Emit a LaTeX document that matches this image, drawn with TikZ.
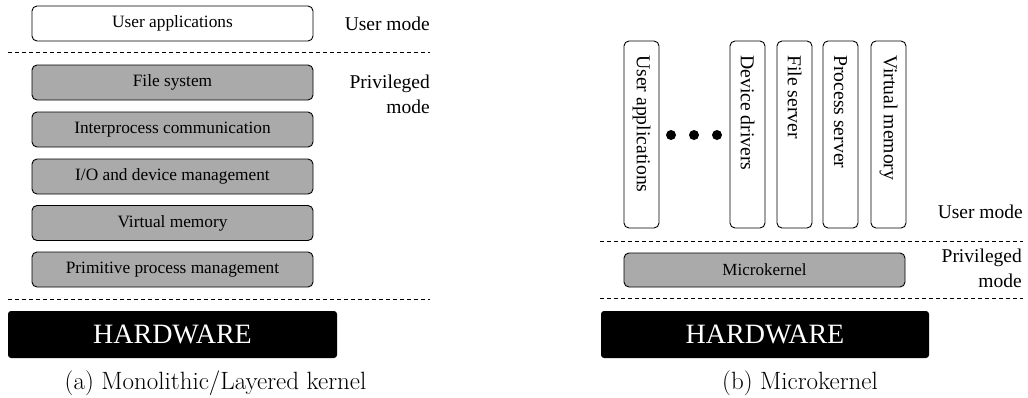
\documentclass[tikz,border=0pt]{standalone}
\usepackage{fontspec}
\newfontfamily\tnr{Liberation Serif}
\definecolor{kgray}{RGB}{170,170,170}
\begin{document}
\begin{tikzpicture}[x=1pt,y=-1pt,
 layer/.style={draw, rounded corners=5pt, line width=0.9pt, minimum width=281pt, minimum height=35pt, inner sep=0pt, font=\tnr\fontsize{17.3}{20}\selectfont},
 kern/.style={layer, fill=kgray},
 userbox/.style={layer, fill=white},
 hw/.style={fill=black, rounded corners=3pt, text=white, minimum width=329pt, minimum height=47pt, inner sep=0pt, font=\tnr\fontsize{28}{32}\selectfont},
 vbox/.style={draw, rounded corners=5pt, line width=0.9pt, minimum width=35pt, minimum height=187pt, inner sep=0pt},
 vtext/.style={rotate=-90, anchor=west, inner sep=0pt, font=\tnr\fontsize{19.7}{22}\selectfont},
 modelabel/.style={anchor=east, align=right, inner sep=0pt, font=\tnr\fontsize{19.5}{25}\selectfont},
 sepline/.style={dash pattern=on 4pt off 3pt, line width=0.8pt},
 dotnode/.style={circle, fill=black, minimum size=10pt, inner sep=0pt},
 captext/.style={inner sep=0pt, font=\fontsize{25}{30}\selectfont}]
\useasboundingbox (0,0) rectangle (1028,397);

% ---------- (a) ----------
\node[userbox] (ua) at (172.5,23.5) {User applications};
\node[kern] (fs) at (172.5,82.5) {File system};
\node[kern] (ipc) at (172.5,129.5) {Interprocess communication};
\node[kern] (io) at (172.5,176.5) {I/O and device management};
\node[kern] (vm) at (172.5,223) {Virtual memory};
\node[kern] (ppm) at (172.5,269.5) {Primitive process management};
\node[hw] (hwa) at (172.5,334.5) {HARDWARE};
\node[modelabel] (uma) at (430,23.5) {User mode};
\node[modelabel] (pma) at (430,94.5) {Privileged\\mode};
\coordinate (a1l) at (8,52); \coordinate (a1r) at (430,52);
\coordinate (a2l) at (8,299); \coordinate (a2r) at (430,299);
\draw[sepline] (a1l) -- (a1r);
\draw[sepline] (a2l) -- (a2r);
\node[captext] (capa) at (215.5,383) {(a) Monolithic/Layered kernel};

% ---------- (b) ----------
\node[vbox] (bua) at (641.5,134.5) {};
\node[vbox] (bdd) at (747.5,134.5) {};
\node[vbox] (bfs) at (794.5,134.5) {};
\node[vbox] (bps) at (840.5,134.5) {};
\node[vbox] (bvm) at (888.5,134.5) {};
\node[vtext] (tua) at (641.5,55) {User applications};
\node[vtext] (tdd) at (747.5,55) {Device drivers};
\node[vtext] (tfs) at (794.5,55) {File server};
\node[vtext] (tps) at (840.5,55) {Process server};
\node[vtext] (tvm) at (888.5,55) {Virtual memory};
\node[dotnode] (d1) at (671,135) {};
\node[dotnode] (d2) at (694,135) {};
\node[dotnode] (d3) at (717,135) {};
\node[modelabel] (umb) at (1023,212) {User mode};
\coordinate (b1l) at (600,241); \coordinate (b1r) at (1023,241);
\coordinate (b2l) at (600,298); \coordinate (b2r) at (1023,298);
\draw[sepline] (b1l) -- (b1r);
\draw[sepline] (b2l) -- (b2r);
\node[kern, minimum height=34pt, font=\tnr\fontsize{17}{20}\selectfont] (mk) at (764.5,270) {Microkernel};
\node[modelabel] (pmb) at (1022,268.5) {Privileged\\mode};
\node[hw, minimum width=328pt] (hwb) at (765,334.5) {HARDWARE};
\node[captext] (capb) at (800,383) {(b) Microkernel};
\end{tikzpicture}
\end{document}
